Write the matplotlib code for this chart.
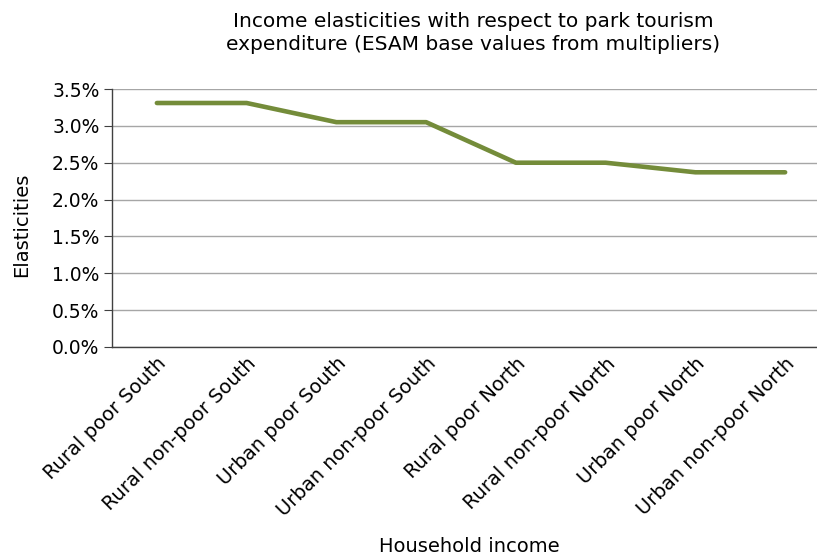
import matplotlib
matplotlib.use("Agg")
import matplotlib.pyplot as plt
from matplotlib.ticker import PercentFormatter

categories = [
    "Rural poor South", "Rural non-poor South", "Urban poor South", "Urban non-poor South",
    "Rural poor North", "Rural non-poor North", "Urban poor North", "Urban non-poor North",
]
elasticities = [3.31, 3.31, 3.05, 3.05, 2.50, 2.50, 2.37, 2.37]
y_ticks = [0.0, 0.5, 1.0, 1.5, 2.0, 2.5, 3.0, 3.5]

plt.rcParams["font.family"] = ["DejaVu Sans"]

fig = plt.figure(figsize=(8.17, 5.6), dpi=100)
W, H = 817, 560
left, right, top, bottom = 112, 830, 89, 347
ax = fig.add_axes([left / W, 1 - bottom / H, (right - left) / W, (bottom - top) / H])

x = list(range(len(categories)))
ax.plot(x, elasticities, color="#748C3A", linewidth=3.3, solid_capstyle="round",
        solid_joinstyle="round", zorder=3)

ax.set_xlim(-0.5, len(categories) - 0.5)
ax.set_ylim(0, 3.5)
ax.set_yticks(y_ticks)
ax.yaxis.set_major_formatter(PercentFormatter(decimals=1))
ax.grid(axis="y", color="#A6A6A6", linewidth=1.0)
ax.set_axisbelow(True)

ax.set_xticks(x)
ax.set_xticklabels(categories, rotation=45, ha="right", rotation_mode="anchor", fontsize=14)
ax.tick_params(axis="x", length=0, pad=5)
ax.tick_params(axis="y", labelsize=13.5, length=6, direction="out", color="#404040", pad=3)

for side in ["top", "right"]:
    ax.spines[side].set_visible(False)
for side in ["left", "bottom"]:
    ax.spines[side].set_color("#404040")
    ax.spines[side].set_linewidth(1.0)

fig.text(22 / W, 1 - 225 / H, "Elasticities", rotation=90, ha="center", va="center",
         fontsize=14)
fig.text(469 / W, 1 - 547 / H, "Household income", ha="center", va="center", fontsize=14)
fig.text(473 / W, 1 - 33 / H,
         "Income elasticities with respect to park tourism\nexpenditure (ESAM base values from multipliers)",
         ha="center", va="center", fontsize=14.5, linespacing=1.25)

fig.savefig("out.png", dpi=100)
